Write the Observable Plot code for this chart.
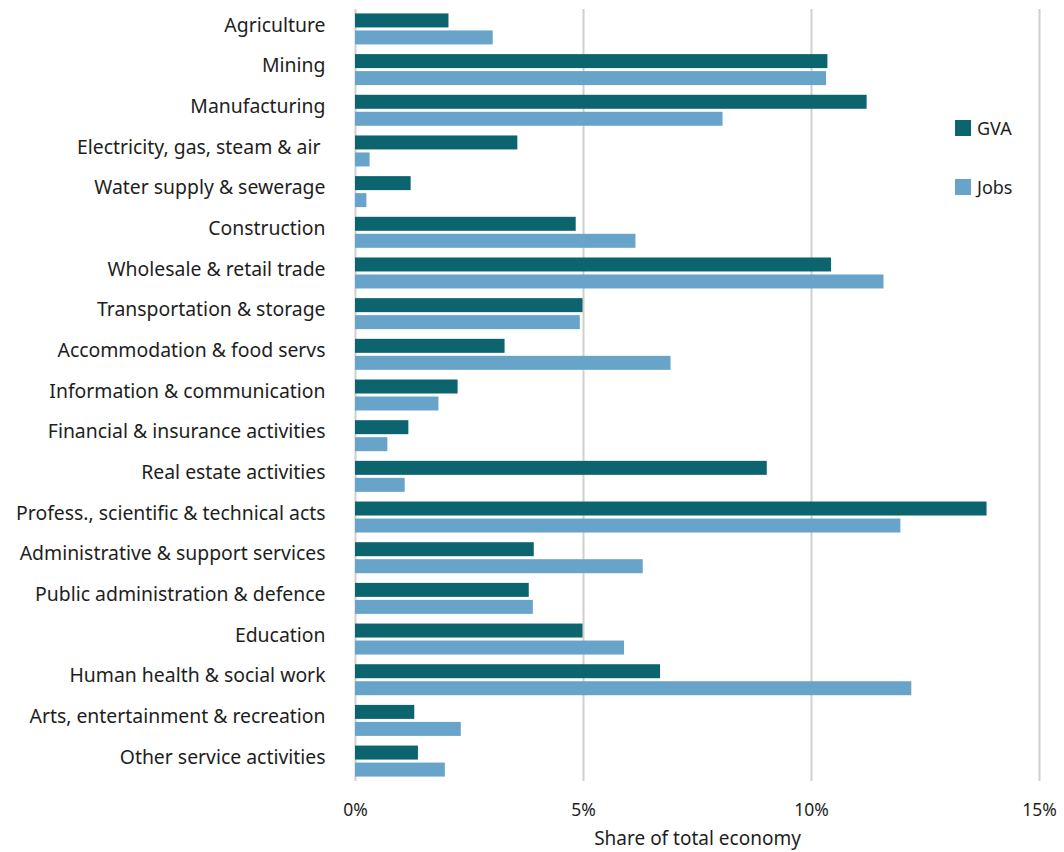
<!DOCTYPE html>
<html><head><meta charset="utf-8">
<script src="https://cdn.jsdelivr.net/npm/d3@7"></script>
<script src="https://cdn.jsdelivr.net/npm/@observablehq/plot@0.6"></script>
<style>
body{margin:0;background:#fff;font-family:"Noto Sans",sans-serif;}
#wrap{position:relative;width:1064px;height:852px;overflow:hidden;}
.leg{position:absolute;left:955px;display:flex;align-items:flex-start;font-size:18px;line-height:16px;color:#1e1e1e;}
.sw{width:16px;height:16px;margin-right:6px;}
</style>
</head><body>
<div id="wrap"><div id="chart"></div></div>
<script>
const categories = ["Agriculture","Mining","Manufacturing","Electricity, gas, steam & air ","Water supply & sewerage","Construction","Wholesale & retail trade","Transportation & storage","Accommodation & food servs","Information & communication","Financial & insurance activities","Real estate activities","Profess., scientific & technical acts","Administrative & support services","Public administration & defence","Education","Human health & social work","Arts, entertainment & recreation","Other service activities"];
const gva  = [2.05, 10.36, 11.22, 3.56, 1.22, 4.84, 10.44, 4.99, 3.28, 2.25, 1.17, 9.03, 13.85, 3.92, 3.81, 4.99, 6.69, 1.30, 1.38];
const jobs = [3.02, 10.33, 8.06, 0.32, 0.25, 6.15, 11.59, 4.93, 6.92, 1.83, 0.71, 1.09, 11.96, 6.31, 3.90, 5.90, 12.20, 2.32, 1.97];
const seriesNames = ["GVA","Jobs"];
const seriesColors = ["#0b646e","#68a4c9"];
const xTicks = [0,5,10,15];

const data = categories.map((c,i)=>({category:c, gva:gva[i], jobs:jobs[i]}));
const grid = "#d3d0cc";

const chart = Plot.plot({
  width:1064, height:852,
  marginLeft:355, marginRight:25, marginTop:9, marginBottom:71,
  style:{fontFamily:"'Noto Sans', sans-serif", color:"#1e1e1e", background:"#fff"},
  x:{domain:[0,15]},
  y:{domain:categories, paddingInner:0.238, paddingOuter:0.109, round:false},
  marks:[
    Plot.ruleX(xTicks.slice(1), {stroke:grid, strokeWidth:2}),
    Plot.ruleX([0], {stroke:grid, strokeWidth:2}),
    Plot.barX(data, {x:"gva", y:"category", fill:seriesColors[0], insetBottom:17}),
    Plot.barX(data, {x:"jobs", y:"category", fill:seriesColors[1], insetTop:17}),
    Plot.axisX({ticks:xTicks, tickFormat:d=>d+"%", tickSize:0, tickPadding:22, fontSize:17.5,
      label:"Share of total economy", labelAnchor:"center", labelOffset:63, labelArrow:"none"}),
    Plot.axisY({tickSize:0, tickPadding:30, fontSize:19.4, label:null, dy:-4})
  ]
});
document.getElementById("chart").appendChild(chart);
// axis title slightly larger than tick labels
chart.querySelectorAll("g[aria-label='x-axis label'] text").forEach(t=>t.setAttribute("font-size","19px"));

const wrap = document.getElementById("wrap");
seriesNames.forEach((n,i)=>{
  const d = document.createElement("div");
  d.className="leg";
  d.style.top = (i===0?120:179)+"px";
  d.innerHTML = `<div class="sw" style="background:${seriesColors[i]}"></div><span>${n}</span>`;
  wrap.appendChild(d);
});
</script>
</body></html>
